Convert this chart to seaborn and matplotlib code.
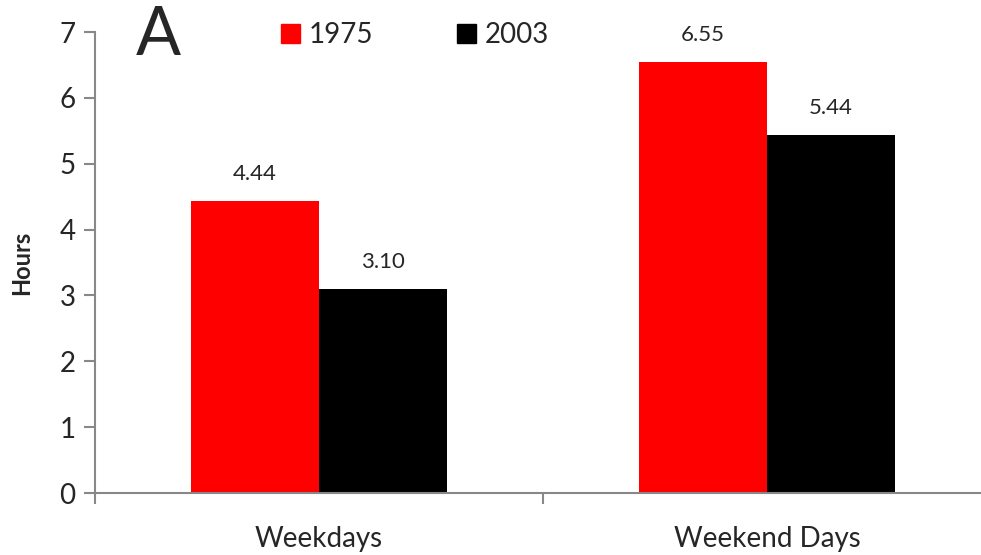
import pandas as pd
import matplotlib.pyplot as plt
import seaborn as sns
from matplotlib.patches import Patch

categories = ['Weekdays', 'Weekend Days']
years = ['1975', '2003']
hours_1975 = [4.44, 6.55]
hours_2003 = [3.10, 5.44]

df = pd.DataFrame({
    'day': categories * 2,
    'year': [years[0]] * 2 + [years[1]] * 2,
    'hours': hours_1975 + hours_2003,
})

sns.set_style('white')
plt.rcParams['font.family'] = ['Lato', 'DejaVu Sans']

fig = plt.figure(figsize=(9.81, 5.55), dpi=100)
ax = fig.add_axes([95 / 981, 1 - 493 / 555, 896 / 981, 461 / 555])

palette = {'1975': '#ff0000', '2003': '#000000'}
sns.barplot(data=df, x='day', y='hours', hue='year', palette=palette,
            width=0.571, gap=0, saturation=1, ax=ax, legend=False, linewidth=0)

for cont in ax.containers:
    ax.bar_label(cont, fmt='%.2f', padding=12, fontsize=16)

ax.set_ylim(0, 7)
ax.set_xlim(-0.5, 1.5)
ax.set_yticks(range(0, 8))
ax.set_xlabel('')
ax.set_ylabel('Hours', fontsize=17, fontweight='bold')
ax.yaxis.set_label_coords(-62 / 896, 0.5)

grey = '#888888'
for s in ['top', 'right']:
    ax.spines[s].set_visible(False)
for s in ['left', 'bottom']:
    ax.spines[s].set_color(grey)
    ax.spines[s].set_linewidth(1.5)

ax.tick_params(axis='y', left=True, length=8, width=1.5, color=grey, labelsize=20, pad=6)
ax.tick_params(axis='x', bottom=False, labelsize=20, pad=20)
# minor ticks at category boundaries on the x axis
ax.set_xticks([-0.5, 0.5, 1.5], minor=True)
ax.tick_params(axis='x', which='minor', bottom=True, length=8, width=1.5, color=grey)

fig.text(136 / 981, 1 - 36 / 555, 'A', fontsize=48, va='center', ha='left')

handles = [Patch(color=palette[y], label=y) for y in years]
ax.legend(handles=handles, loc='center left', bbox_to_anchor=(256 / 896 - 95 / 896, 1 - 3 / 461),
          ncol=2, frameon=False, fontsize=20, handlelength=0.7, handleheight=0.7,
          handletextpad=0.3, columnspacing=3.0)

fig.savefig('out.png', dpi=100)
